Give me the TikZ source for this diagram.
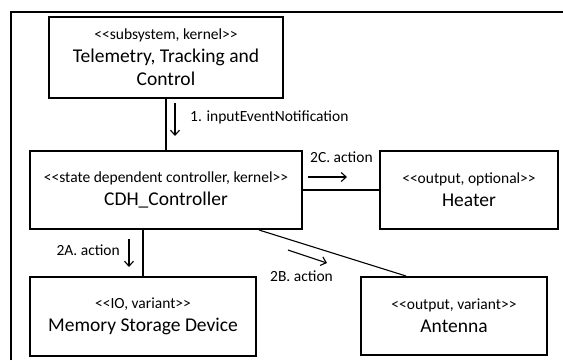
\documentclass[tikz,border=0pt]{standalone}
\usepackage{fontspec}
\setmainfont{Carlito}
\usetikzlibrary{arrows.meta,calc}
\newcommand{\stereo}[1]{{\fontsize{15.5}{23}\selectfont #1}}
\tikzset{
  comp/.style={draw, line width=2pt, align=center, inner sep=0pt,
    font=\fontsize{19.5}{23}\selectfont},
  link/.style={line width=1.1pt},
  msg/.style={line width=1.1pt, -{Straight Barb[length=5pt,width=9pt]}},
  lbl/.style={font=\fontsize{15.5}{18}\selectfont, inner sep=0pt},
}
\begin{document}
\begin{tikzpicture}[x=1pt,y=-1pt]
\useasboundingbox (0,0) rectangle (563,360);
\fill[white] (0,0) rectangle (563,360);
% enclosing frame
\draw[line width=1.2pt] (11,360) -- (11,12) -- (563,12);

% components
\node[comp, minimum width=234pt, minimum height=81pt] (ttc) at (166,57.5)
  {\stereo{<{}<subsystem, kernel>{}>}\\Telemetry, Tracking and\\Control};
\node[comp, minimum width=272pt, minimum height=78pt] (cdh) at (166,190)
  {\stereo{<{}<state dependent controller, kernel>{}>}\\CDH\_Controller};
\node[comp, minimum width=178pt, minimum height=78pt] (heater) at (469,190)
  {\stereo{<{}<output, optional>{}>}\\Heater};
\node[comp, minimum width=226pt, minimum height=79pt] (mem) at (143,316.5)
  {\stereo{<{}<IO, variant>{}>}\\Memory Storage Device};
\node[comp, minimum width=186pt, minimum height=78pt] (ant) at (454,316)
  {\stereo{<{}<output, variant>{}>}\\Antenna};

% links
\draw[link] (ttc) -- (cdh);
\draw[link] (cdh) -- (heater);
\draw[link] (mem.north) -- (mem.north |- cdh.south);
\draw[link] ($(cdh.south east)+(-44,0)$) -- ($(ant.north west)+(46,0)$);

% messages
\draw[msg] (175,103) -- (175,136);
\node[lbl, anchor=west] (m1) at (190,117) {1. inputEventNotification};
\draw[msg] (308,177) -- (347,177);
\node[lbl, anchor=west] (m2c) at (310,157) {2C. action};
\draw[msg] (129,239) -- (129,267);
\node[lbl, anchor=east] (m2a) at (120,250) {2A. action};
\draw[msg] (288,250) -- (327,263);
\node[lbl, anchor=west] (m2b) at (270,276) {2B. action};
\end{tikzpicture}
\end{document}
